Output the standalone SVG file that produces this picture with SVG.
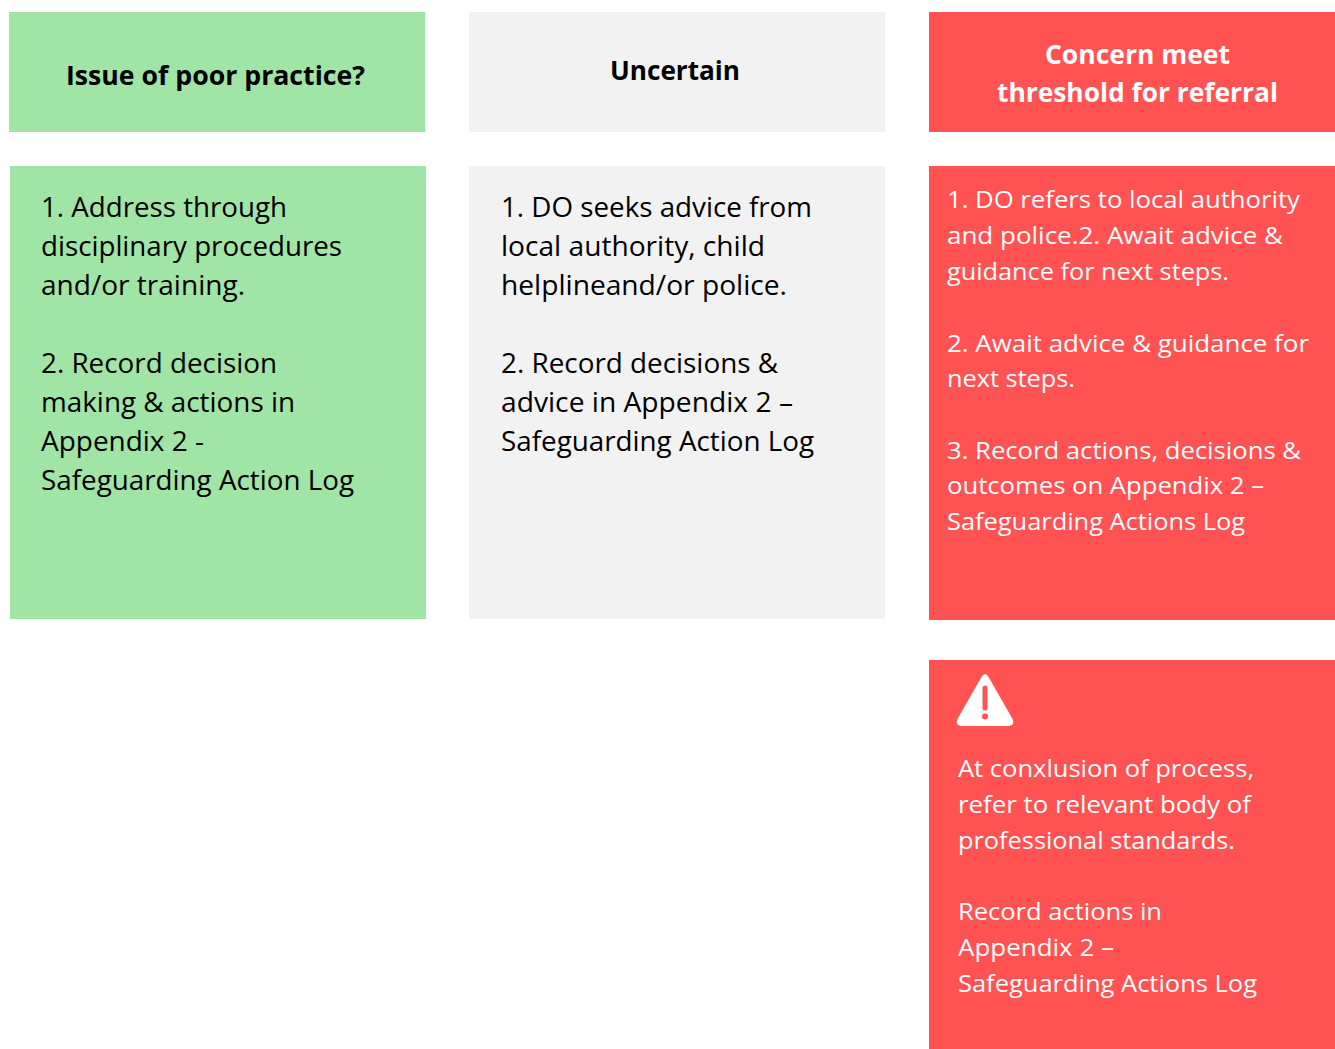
<svg xmlns="http://www.w3.org/2000/svg" width="1335" height="1049" viewBox="0 0 1335 1049">
<style>
.green{fill:#A0E4A6}
.grey{fill:#F2F2F2}
.red{fill:#FF5252}
.hd{font-family:"Open Sans","Noto Sans",sans-serif;font-weight:bold;font-size:27px}
.bd{font-family:"Open Sans","Noto Sans",sans-serif;font-size:27px;fill:#000}
.rd{font-family:"Open Sans","Noto Sans",sans-serif;font-size:23.5px;fill:#fff}
</style>
<rect width="1335" height="1049" fill="#fff"/>
<g id="head-poor">
<rect class="green" x="9" y="12" width="416" height="120"/>
<text class="hd" x="66" y="85" textLength="299" lengthAdjust="spacingAndGlyphs" fill="#000">Issue of poor practice?</text>
</g>
<g id="head-uncertain">
<rect class="grey" x="469" y="12" width="416" height="120"/>
<text class="hd" x="610" y="80" textLength="130" lengthAdjust="spacingAndGlyphs" fill="#000">Uncertain</text>
</g>
<g id="head-referral">
<rect class="red" x="929" y="12" width="406" height="120"/>
<text class="hd" x="1045" y="64" textLength="185" lengthAdjust="spacingAndGlyphs" fill="#fff">Concern meet</text>
<text class="hd" x="997" y="102" textLength="281" lengthAdjust="spacingAndGlyphs" fill="#fff">threshold for referral</text>
</g>
<g id="body-poor">
<rect class="green" x="10" y="166" width="416" height="453"/>
<text class="bd" x="41" y="217" textLength="246" lengthAdjust="spacingAndGlyphs">1. Address through</text>
<text class="bd" x="41" y="256" textLength="301" lengthAdjust="spacingAndGlyphs">disciplinary procedures</text>
<text class="bd" x="41" y="295" textLength="204" lengthAdjust="spacingAndGlyphs">and/or training.</text>
<text class="bd" x="41" y="373" textLength="236" lengthAdjust="spacingAndGlyphs">2. Record decision</text>
<text class="bd" x="41" y="412" textLength="254" lengthAdjust="spacingAndGlyphs">making &amp; actions in</text>
<text class="bd" x="41" y="451" textLength="163" lengthAdjust="spacingAndGlyphs">Appendix 2 -</text>
<text class="bd" x="41" y="490" textLength="313" lengthAdjust="spacingAndGlyphs">Safeguarding Action Log</text>
</g>
<g id="body-uncertain">
<rect class="grey" x="469" y="166" width="416" height="453"/>
<text class="bd" x="501" y="217" textLength="311" lengthAdjust="spacingAndGlyphs">1. DO seeks advice from</text>
<text class="bd" x="501" y="256" textLength="264" lengthAdjust="spacingAndGlyphs">local authority, child</text>
<text class="bd" x="501" y="295" textLength="286" lengthAdjust="spacingAndGlyphs">helplineand/or police.</text>
<text class="bd" x="501" y="373" textLength="277" lengthAdjust="spacingAndGlyphs">2. Record decisions &amp;</text>
<text class="bd" x="501" y="412" textLength="292" lengthAdjust="spacingAndGlyphs">advice in Appendix 2 –</text>
<text class="bd" x="501" y="451" textLength="313" lengthAdjust="spacingAndGlyphs">Safeguarding Action Log</text>
</g>
<g id="body-referral">
<rect class="red" x="929" y="166" width="406" height="454"/>
<text class="rd" x="947" y="208" textLength="353" lengthAdjust="spacingAndGlyphs">1. DO refers to local authority</text>
<text class="rd" x="947" y="244" textLength="336" lengthAdjust="spacingAndGlyphs">and police.2. Await advice &amp;</text>
<text class="rd" x="947" y="280" textLength="282" lengthAdjust="spacingAndGlyphs">guidance for next steps.</text>
<text class="rd" x="947" y="352" textLength="362" lengthAdjust="spacingAndGlyphs">2. Await advice &amp; guidance for</text>
<text class="rd" x="947" y="387" textLength="128" lengthAdjust="spacingAndGlyphs">next steps.</text>
<text class="rd" x="947" y="459" textLength="354" lengthAdjust="spacingAndGlyphs">3. Record actions, decisions &amp;</text>
<text class="rd" x="947" y="494" textLength="317" lengthAdjust="spacingAndGlyphs">outcomes on Appendix 2 –</text>
<text class="rd" x="947" y="530" textLength="298" lengthAdjust="spacingAndGlyphs">Safeguarding Actions Log</text>
</g>
<g id="conclusion">
<rect class="red" x="929" y="660" width="406" height="389"/>
<path d="M981.5,677 Q985,671 988.5,677 L1012,718 Q1016,726 1007,726 L963,726 Q954,726 958,718 Z" fill="#fff"/>
<path d="M985,688 L985,708" stroke="#FF5252" stroke-width="5" stroke-linecap="round"/>
<circle cx="985" cy="716.5" r="3" fill="#FF5252"/>
<text class="rd" x="958" y="777" textLength="296" lengthAdjust="spacingAndGlyphs">At conxlusion of process,</text>
<text class="rd" x="958" y="813" textLength="293" lengthAdjust="spacingAndGlyphs">refer to relevant body of</text>
<text class="rd" x="958" y="849" textLength="277" lengthAdjust="spacingAndGlyphs">professional standards.</text>
<text class="rd" x="958" y="920" textLength="204" lengthAdjust="spacingAndGlyphs">Record actions in</text>
<text class="rd" x="958" y="956" textLength="156" lengthAdjust="spacingAndGlyphs">Appendix 2 –</text>
<text class="rd" x="958" y="992" textLength="299" lengthAdjust="spacingAndGlyphs">Safeguarding Actions Log</text>
</g>
<g id="connectors"></g>
</svg>
